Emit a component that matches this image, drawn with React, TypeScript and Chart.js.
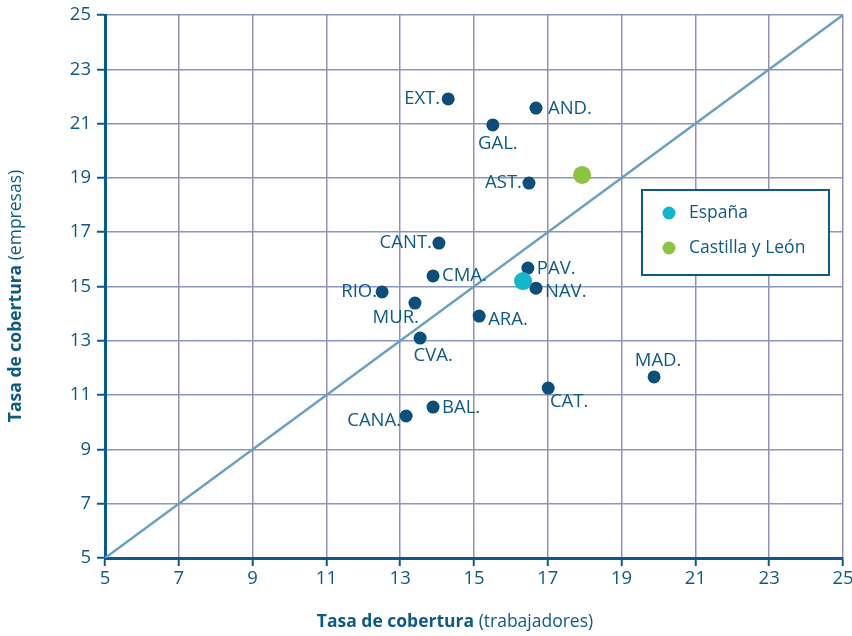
import React, { useEffect, useRef } from 'react';
import { Chart, registerables } from 'chart.js';

Chart.register(...registerables);

// ---------- data ----------
const regions = ['EXT.', 'AND.', 'GAL.', 'AST.', 'CANT.', 'CMA.', 'PAV.', 'NAV.', 'RIO.', 'MUR.', 'ARA.', 'CVA.', 'CAT.', 'MAD.', 'BAL.', 'CANA.'];
const trabajadores = [14.3, 16.68, 15.51, 16.49, 14.05, 13.89, 16.46, 16.68, 12.51, 13.4, 15.14, 13.54, 17.01, 19.88, 13.89, 13.16];
const empresas = [21.91, 21.57, 20.95, 18.81, 16.6, 15.39, 15.68, 14.94, 14.8, 14.39, 13.91, 13.1, 11.26, 11.67, 10.56, 10.23];
const espanaXY = [16.33, 15.2];
const castillaXY = [17.93, 19.11];
const diagonalXY = [5, 25];
const axisTicks = [5, 7, 9, 11, 13, 15, 17, 19, 21, 23, 25];
const seriesNames = ['España', 'Castilla y León'];
const xTitle = ['Tasa de cobertura', ' (trabajadores)'];
const yTitle = ['Tasa de cobertura', ' (empresas)'];

// ---------- styles ----------
const FONT = "'Open Sans', sans-serif";
const TEXT = '#0d5a86';
const AXIS = '#0b5a8c';
const NAVY = '#0b4e7a';
const CYAN = '#14b6cb';
const GREEN = '#8cc43f';
const FS = 17.5;
const LABEL_FS = 18.5;

// label placement per region: dx, dy, align
const placement: Record<string, [number, number, CanvasTextAlign]> = {
  'EXT.': [-8, 0, 'right'],
  'AND.': [12, 1, 'left'],
  'GAL.': [5, 19, 'center'],
  'AST.': [-7, 0, 'right'],
  'CANT.': [-7, 0, 'right'],
  'CMA.': [9, 0, 'left'],
  'PAV.': [9, 1, 'left'],
  'NAV.': [9, 4, 'left'],
  'RIO.': [-5, 0, 'right'],
  'MUR.': [4, 15, 'right'],
  'ARA.': [9, 4, 'left'],
  'CVA.': [13, 18, 'center'],
  'CAT.': [21, 14, 'center'],
  'MAD.': [4, -16, 'center'],
  'BAL.': [9, 1, 'left'],
  'CANA.': [-5, 5, 'right'],
};

const pointLabels = {
  id: 'pointLabels',
  afterDatasetsDraw(chart: any) {
    const meta = chart.getDatasetMeta(1);
    const ctx = chart.ctx;
    ctx.save();
    ctx.font = `${LABEL_FS}px ${FONT}`;
    ctx.fillStyle = TEXT;
    ctx.textBaseline = 'middle';
    meta.data.forEach((el: any, i: number) => {
      const name = regions[i];
      const [dx, dy, align] = placement[name] || [8, 0, 'left'];
      ctx.textAlign = align;
      ctx.fillText(name, el.x + dx, el.y + dy);
    });
    ctx.restore();
  },
};

const axisTitles = {
  id: 'axisTitles',
  afterDraw(chart: any) {
    const ctx = chart.ctx;
    ctx.save();
    ctx.fillStyle = TEXT;
    ctx.textBaseline = 'middle';
    ctx.textAlign = 'left';
    const drawMixed = (parts: string[]) => {
      ctx.font = `bold ${FS}px ${FONT}`;
      const w1 = ctx.measureText(parts[0]).width;
      ctx.font = `${FS}px ${FONT}`;
      const w2 = ctx.measureText(parts[1]).width;
      const start = -(w1 + w2) / 2;
      ctx.font = `bold ${FS}px ${FONT}`;
      ctx.fillText(parts[0], start, 0);
      ctx.font = `${FS}px ${FONT}`;
      ctx.fillText(parts[1], start + w1, 0);
    };
    ctx.save();
    ctx.translate(455, 622);
    drawMixed(xTitle);
    ctx.restore();
    ctx.save();
    ctx.translate(16, 296);
    ctx.rotate(-Math.PI / 2);
    drawMixed(yTitle);
    ctx.restore();
    ctx.restore();
  },
};

const boxLegend = {
  id: 'boxLegend',
  afterDraw(chart: any) {
    const ctx = chart.ctx;
    const x0 = 642, y0 = 190, w = 187, h = 85;
    ctx.save();
    ctx.fillStyle = '#ffffff';
    ctx.fillRect(x0, y0, w, h);
    ctx.strokeStyle = AXIS;
    ctx.lineWidth = 2;
    ctx.strokeRect(x0, y0, w, h);
    const items = [
      { name: seriesNames[0], color: chart.data.datasets[2].backgroundColor },
      { name: seriesNames[1], color: chart.data.datasets[3].backgroundColor },
    ];
    items.forEach((it, i) => {
      const cy = y0 + 23 + i * 35;
      ctx.beginPath();
      ctx.arc(x0 + 27, cy, 6.5, 0, Math.PI * 2);
      ctx.fillStyle = it.color;
      ctx.fill();
      ctx.fillStyle = TEXT;
      ctx.font = `${FS}px ${FONT}`;
      ctx.textAlign = 'left';
      ctx.textBaseline = 'middle';
      ctx.fillText(it.name, x0 + 47, cy);
    });
    ctx.restore();
  },
};

export default function App() {
  const ref = useRef<HTMLCanvasElement | null>(null);

  useEffect(() => {
    if (!ref.current) return;
    const setTicks = (scale: any) => {
      scale.ticks = axisTicks.map((v) => ({ value: v }));
    };
    const tickFont = { family: FONT, size: 18.5 };
    const chart = new Chart(ref.current, {
      type: 'scatter',
      data: {
        datasets: [
          {
            label: 'diagonal',
            data: diagonalXY.map((v) => ({ x: v, y: v })),
            showLine: true,
            borderColor: '#6a9fc4',
            borderWidth: 2.5,
            pointRadius: 0,
            order: 4,
          },
          {
            label: 'CCAA',
            data: regions.map((_, i) => ({ x: trabajadores[i], y: empresas[i] })),
            backgroundColor: NAVY,
            borderWidth: 0,
            pointRadius: 6.5,
            order: 3,
          },
          {
            label: seriesNames[0],
            data: [{ x: espanaXY[0], y: espanaXY[1] }],
            backgroundColor: CYAN,
            borderWidth: 0,
            pointRadius: 9,
            order: 2,
          },
          {
            label: seriesNames[1],
            data: [{ x: castillaXY[0], y: castillaXY[1] }],
            backgroundColor: GREEN,
            borderWidth: 0,
            pointRadius: 9,
            order: 1,
          },
        ],
      },
      options: {
        responsive: false,
        animation: false,
        layout: { padding: { top: 15, right: 9, left: 0, bottom: 0 } },
        plugins: {
          legend: { display: false },
          tooltip: { enabled: false },
        },
        scales: {
          x: {
            type: 'linear',
            min: 5,
            max: 25,
            afterBuildTicks: setTicks,
            afterFit: (scale: any) => {
              scale.height = 78;
              scale.paddingLeft = 0;
              scale.paddingRight = 0;
            },
            grid: {
              color: '#9a8cb3',
              lineWidth: 1.5,
              tickColor: AXIS,
              tickLength: 8,
              tickWidth: 2,
            },
            border: { color: AXIS, width: 3 },
            ticks: { color: TEXT, font: tickFont, padding: 2, maxRotation: 0 },
          },
          y: {
            type: 'linear',
            min: 5,
            max: 25,
            afterBuildTicks: setTicks,
            afterFit: (scale: any) => {
              scale.width = 105;
              scale.paddingTop = 0;
              scale.paddingBottom = 0;
            },
            grid: {
              color: '#8b96bd',
              lineWidth: 1.5,
              tickColor: AXIS,
              tickLength: 8,
              tickWidth: 2,
            },
            border: { color: AXIS, width: 3 },
            ticks: { color: TEXT, font: tickFont, padding: 6 },
          },
        },
      },
      plugins: [pointLabels, axisTitles, boxLegend],
    } as any);
    return () => chart.destroy();
  }, []);

  return (
    <div style={{ position: 'fixed', left: 0, top: 0, width: 852, height: 636, background: '#fff' }}>
      <canvas ref={ref} width={852} height={636} style={{ display: 'block' }} />
    </div>
  );
}
